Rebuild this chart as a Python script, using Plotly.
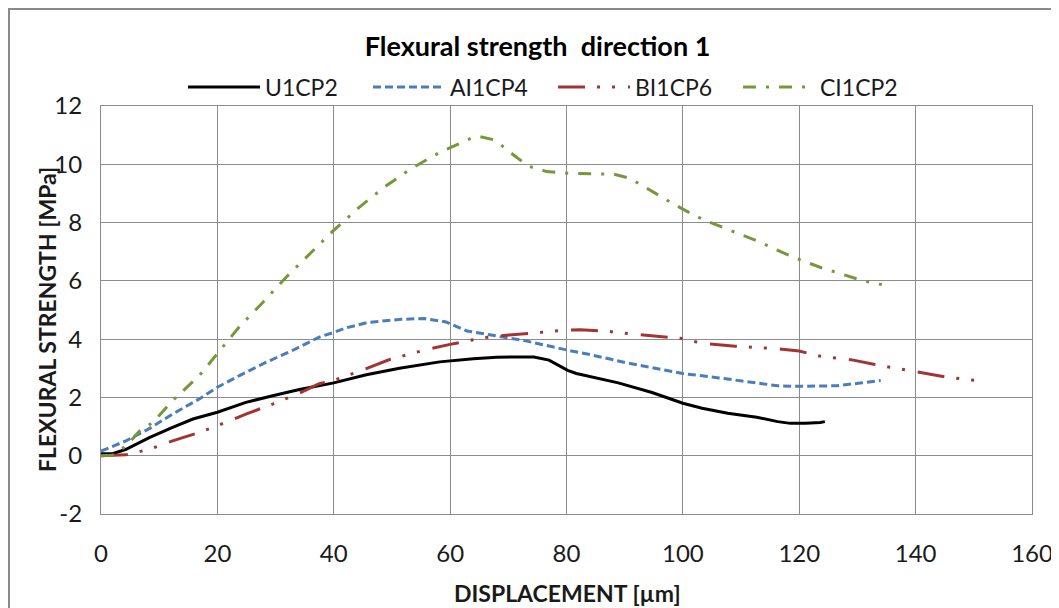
import plotly.graph_objects as go

# ---- data ----
u1_x = [0, 2, 4.3, 8.3, 12.3, 15.8, 20, 24.9, 29.5, 34.1, 40, 45.6, 51.3, 58.2, 64, 68, 72, 74.4, 77, 80.2,
        81.7, 88.9, 94.7, 100, 103.3, 107.7, 112.7, 116.3, 118.5, 121, 123.6, 124.4]
u1_y = [0.07, 0.07, 0.22, 0.62, 0.97, 1.26, 1.49, 1.83, 2.06, 2.27, 2.50, 2.78, 3.00, 3.22, 3.33, 3.38, 3.39,
        3.39, 3.28, 2.93, 2.82, 2.50, 2.17, 1.80, 1.63, 1.46, 1.32, 1.17, 1.11, 1.11, 1.14, 1.17]

a1_x = [0, 4.3, 8.3, 12.3, 16.9, 20, 23.8, 28.4, 33, 35.9, 37.5, 40, 42, 45.8, 51.6, 55.5, 59.3, 62.9, 67.9,
        73, 80, 83.8, 90.3, 100, 106.2, 110.5, 116.3, 120, 126.4, 130.8, 134]
a1_y = [0.16, 0.51, 0.93, 1.43, 1.95, 2.35, 2.75, 3.21, 3.62, 3.92, 4.07, 4.23, 4.38, 4.57, 4.68, 4.71, 4.59,
        4.28, 4.11, 3.94, 3.63, 3.48, 3.19, 2.82, 2.67, 2.55, 2.40, 2.38, 2.40, 2.50, 2.58]

b1_x = [0, 4.3, 8.3, 12.3, 16.9, 20, 24.9, 29.5, 34.1, 37.5, 40, 44.4, 49.6, 55.7, 60, 65.8, 70.1, 75.2, 80,
        82.4, 87.4, 93.2, 99.6, 103.3, 109, 116.3, 120, 123.5, 129.3, 133, 139.4, 145.2, 150.3]
b1_y = [0, 0.03, 0.22, 0.51, 0.80, 1.03, 1.43, 1.77, 2.15, 2.47, 2.59, 2.90, 3.30, 3.63, 3.82, 4.05, 4.14,
        4.22, 4.31, 4.32, 4.26, 4.14, 4.03, 3.86, 3.76, 3.67, 3.59, 3.42, 3.28, 3.13, 2.90, 2.70, 2.58]

c1_x = [0, 2, 4.3, 6.6, 8.9, 12.3, 16.9, 20, 22, 23.8, 27.8, 31.9, 35.4, 39.7, 44.1, 48.7, 53.3, 58.3, 61.5,
        64, 65.1, 67.7, 70.9, 73.4, 76.6, 80.3, 84.6, 88, 90.9, 93.7, 97.7, 100, 103.4, 106.9, 110.9, 113.5,
        116.8, 120.3, 123.8, 127.1, 130.7, 134.2]
c1_y = [0, 0.02, 0.33, 0.84, 1.14, 1.89, 2.75, 3.5, 4.0, 4.43, 5.26, 6.14, 6.83, 7.68, 8.48, 9.22, 9.85,
        10.42, 10.7, 10.93, 10.95, 10.83, 10.32, 9.94, 9.75, 9.69, 9.67, 9.67, 9.52, 9.18, 8.72, 8.46, 8.11,
        7.83, 7.52, 7.31, 7.0, 6.71, 6.45, 6.25, 6.02, 5.87]

series_names = ["U1CP2", "AI1CP4", "BI1CP6", "CI1CP2"]
x_tick_vals = [0, 20, 40, 60, 80, 100, 120, 140, 160]
y_tick_vals = [-2, 0, 2, 4, 6, 8, 10, 12]
y_tick_text = ["-2", "0", "2", "4", "6", "8", "10", "12"]
title_text = "Flexural strength  direction 1"
x_title = "DISPLACEMENT [µm]"
y_title = "FLEXURAL STRENGTH [MPa]"

FONT = "Lato"
GRID = "#8c8c8c"

# page has an 8px body margin; figure coordinates = page coordinates - 8
ML, MT, PW, PH = 93, 98, 931, 408


def px_x(page_x):
    return (page_x - 8 - ML) / PW


def px_y(page_y):
    return (MT + PH - (page_y - 8)) / PH


fig = go.Figure()
fig.add_trace(go.Scatter(x=u1_x, y=u1_y, mode="lines", name=series_names[0],
                         line=dict(color="#000000", width=3)))
fig.add_trace(go.Scatter(x=a1_x, y=a1_y, mode="lines", name=series_names[1],
                         line=dict(color="#4a7ebb", width=3, dash="8px,4px")))
fig.add_trace(go.Scatter(x=b1_x, y=b1_y, mode="lines", name=series_names[2],
                         line=dict(color="#a23533", width=3, dash="27px,12px,3px,12px,3px,13px")))
fig.add_trace(go.Scatter(x=c1_x, y=c1_y, mode="lines", name=series_names[3],
                         line=dict(color="#77973c", width=3, dash="13px,10px,3px,10px")))

fig.update_layout(
    width=1059, height=608,
    margin=dict(l=ML, r=1059 - ML - PW, t=MT, b=608 - MT - PH, autoexpand=False),
    paper_bgcolor="white", plot_bgcolor="white",
    font=dict(family=FONT, size=22, color="#1a1a1a"),
    title=dict(text="<b>" + title_text + "</b>", x=0.5, xanchor="center", y=1 - (47 - 8) / 608,
               yanchor="middle", font=dict(family=FONT, size=27, color="#000000")),
    showlegend=True,
    legend=dict(orientation="h", x=px_x(183), xanchor="left", y=px_y(87), yanchor="middle",
                font=dict(family=FONT, size=23, color="#1a1a1a"), itemwidth=72,
                entrywidth=98, entrywidthmode="pixels",
                bgcolor="rgba(0,0,0,0)", traceorder="normal"),
    xaxis=dict(range=[0, 160], tickvals=x_tick_vals, showgrid=True, gridcolor=GRID, gridwidth=1,
               zeroline=False, showline=True, linecolor=GRID, linewidth=1, mirror=True,
               ticks="", ticklabelstandoff=18, automargin=False,
               tickfont=dict(family=FONT, size=24)),
    yaxis=dict(range=[-2, 12], tickvals=y_tick_vals, ticktext=y_tick_text, showgrid=True, gridcolor=GRID,
               gridwidth=1, zeroline=False, showline=True, linecolor=GRID, linewidth=1, mirror=True,
               ticks="", ticklabelstandoff=13, automargin=False,
               tickfont=dict(family=FONT, size=24)),
)

# axis titles
fig.add_annotation(text="<b>" + x_title + "</b>", xref="paper", yref="paper", x=px_x(567), y=px_y(593),
                   xanchor="center", yanchor="middle", showarrow=False,
                   font=dict(family=FONT, size=23, color="#1a1a1a"))
fig.add_annotation(text="<b>" + y_title + "</b>", xref="paper", yref="paper", x=px_x(47), y=px_y(320),
                   xanchor="center", yanchor="middle", showarrow=False, textangle=-90,
                   font=dict(family=FONT, size=23, color="#1a1a1a"))

# outer chart border
fig.add_shape(type="rect", xref="paper", yref="paper",
              x0=px_x(9), x1=px_x(1080), y0=px_y(630), y1=px_y(9),
              line=dict(color="#8a8a8a", width=2), fillcolor="rgba(0,0,0,0)", layer="below")

fig.write_html("out.html")
